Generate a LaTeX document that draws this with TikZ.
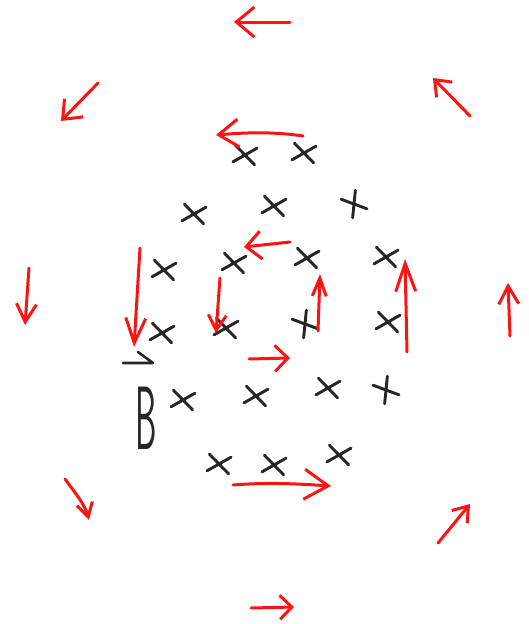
\documentclass[tikz,border=0pt]{standalone}
\usetikzlibrary{arrows.meta,shapes.misc}
\definecolor{pen}{RGB}{250,20,20}
\tikzset{
  redarrow/.style={draw=pen, line width=3pt, line cap=round, line join=round},
  xmark/.style={cross out, draw=black!85, line width=2.9pt, line cap=round, minimum width=19pt, minimum height=14pt, inner sep=0pt, rotate=-8},
  blackpen/.style={draw=black!85, line width=2.6pt, line cap=round, line join=round}
}
\begin{document}
\begin{tikzpicture}[x=1pt,y=-1pt]
\useasboundingbox (0,0) rectangle (529,624);
% crosses
\node[xmark] (c1) at (245,155) {};
\node[xmark] (c2) at (304,153) {};
\node[xmark] (c3) at (194,214) {};
\node[xmark] (c4) at (274,206) {};
\node[xmark, rotate=-50] (c5) at (354,204) {};
\node[xmark] (c6) at (164,270) {};
\node[xmark] (c7) at (234,263) {};
\node[xmark] (c8) at (307,258) {};
\node[xmark] (c9) at (386,257) {};
\node[xmark] (c10) at (162,333) {};
\node[xmark] (c11) at (226,328) {};
\node[xmark, rotate=-50] (c12) at (305,324) {};
\node[xmark] (c13) at (388,322) {};
\node[xmark] (c14) at (183,400) {};
\node[xmark] (c15) at (256,396) {};
\node[xmark] (c16) at (328,388) {};
\node[xmark, rotate=-50] (c17) at (386,390) {};
\node[xmark] (c18) at (219,464) {};
\node[xmark] (c19) at (274,465) {};
\node[xmark] (c20) at (339,455) {};
% label
\node[inner sep=0pt, font=\sffamily\fontsize{90}{90}\selectfont, text=black!85] (B) at (146,418) {\scalebox{0.38}[1]{B}};
\draw[blackpen] (123,363) -- (153,363) -- (138,352);
% red arrows
\draw[redarrow, -{Straight Barb[length=18pt,width=30pt]}] (290,22) -- (234,22);
\draw[redarrow, -{Straight Barb[length=16pt,width=26pt]}] (98,83) -- (61,121);
\draw[redarrow, -{Straight Barb[length=14pt,width=22pt]}] (470,116) -- (433,78);
\draw[redarrow, -{Straight Barb[length=20pt,width=28pt]}] (303,136) .. controls (270,131) and (240,133) .. (216,135);
\draw[redarrow, -{Straight Barb[length=18pt,width=20pt]}] (29,268) -- (25,325);
\draw[redarrow, -{Straight Barb[length=25pt,width=20pt]}] (140,248) -- (134,347);
\draw[redarrow, -{Straight Barb[length=15pt,width=18pt]}] (220,278) -- (216,333);
\draw[redarrow, -{Straight Barb[length=15pt,width=28pt]}] (290,242) -- (244,247);
\draw[redarrow, -{Straight Barb[length=18pt,width=14pt]}] (318,331) -- (320,274);
\draw[redarrow, -{Straight Barb[length=28pt,width=20pt]}] (407,352) -- (405,259);
\draw[redarrow, -{Straight Barb[length=18pt,width=20pt]}] (510,336) -- (508,283);
\draw[redarrow, -{Straight Barb[length=13pt,width=26pt]}] (249,359) -- (290,358);
\draw[redarrow, -{Straight Barb[length=24pt,width=30pt]}] (233,485) .. controls (270,482) and (300,484) .. (331,486);
\draw[redarrow, -{Straight Barb[length=14pt,width=16pt]}] (65,479) .. controls (76,494) and (85,505) .. (89,520);
\draw[redarrow, -{Straight Barb[length=14pt,width=20pt]}] (438,543) -- (470,504);
\draw[redarrow, -{Straight Barb[length=12pt,width=24pt]}] (251,608) -- (294,607);
\end{tikzpicture}
\end{document}
